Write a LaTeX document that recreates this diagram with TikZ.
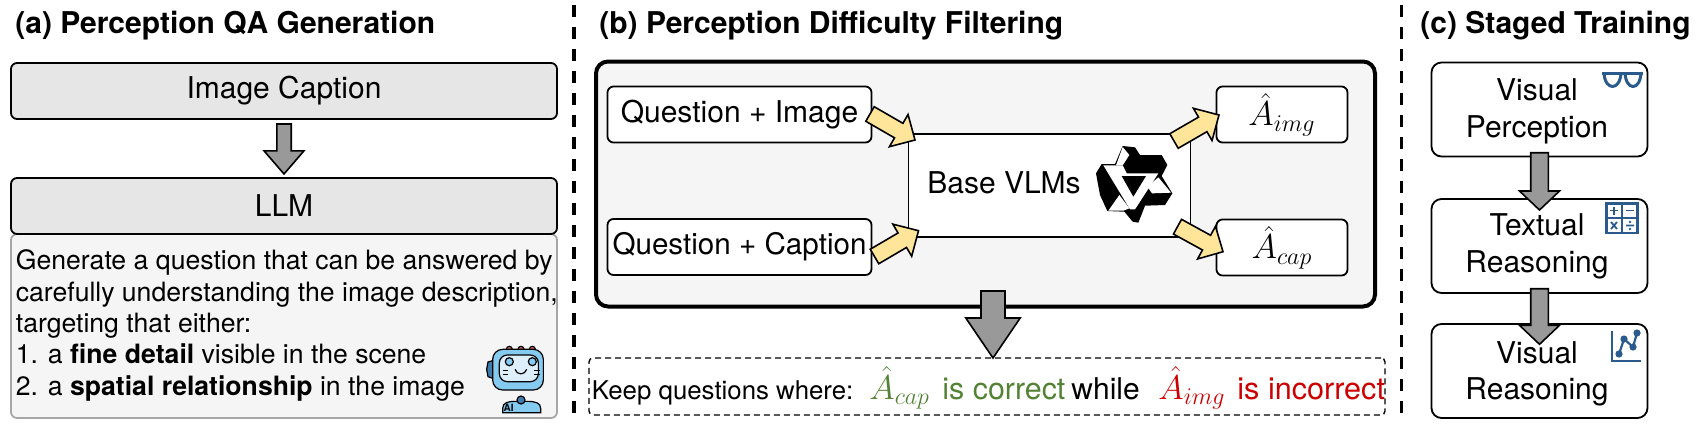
\documentclass[tikz,border=0pt]{standalone}
\usepackage{fontspec}
\setmainfont{TeX Gyre Heros}
\usetikzlibrary{calc}
\definecolor{boxgray}{HTML}{E6E6E6}
\definecolor{panelgray}{HTML}{F5F5F5}
\definecolor{arrowgray}{HTML}{999999}
\definecolor{arrowyellow}{HTML}{FFE599}
\definecolor{okgreen}{HTML}{548235}
\definecolor{badred}{HTML}{CC0000}
\definecolor{iconblue}{HTML}{2A5B8C}
\definecolor{robotblue}{HTML}{85CBF0}
\definecolor{robotdark}{HTML}{3F7CAC}
\definecolor{robotpale}{HTML}{DDEFFA}
\definecolor{robotred}{HTML}{DE6A6A}
\tikzset{blockarrow/.style n args={3}{draw=black,line width=0.8pt,line join=miter,
	to path={($(\tikztotarget)!#3!(\tikztostart)$) coordinate (hb)
		($(\tikztostart)!#1!90:(\tikztotarget)$) -- ($(hb)!#1!90:(\tikztotarget)$)
		-- ($(hb)!#2!90:(\tikztotarget)$) -- (\tikztotarget)
		-- ($(hb)!#2!-90:(\tikztotarget)$) -- ($(hb)!#1!-90:(\tikztotarget)$)
		-- ($(\tikztostart)!#1!-90:(\tikztotarget)$) -- cycle}}}
\begin{document}
\begin{tikzpicture}[x=0.5pt,y=-0.5pt]
	\def \titleht{33}
	\def \keepht{399}
	\def \boxfont{\fontsize{15}{18.5}\selectfont}
	\tikzstyle{title}=[anchor=base west,inner sep=0pt,font=\fontsize{15}{18}\selectfont\bfseries]
	\tikzstyle{gray-box}=[rectangle,rounded corners=3pt,draw=black,line width=0.9pt,fill=boxgray,inner sep=0pt,minimum width=273pt,minimum height=28pt,font=\boxfont]
	\tikzstyle{white-box}=[rectangle,rounded corners=3pt,draw=black,line width=0.9pt,fill=white,inner sep=0pt,font=\boxfont]
	\tikzstyle{stage-box}=[white-box,rounded corners=5pt,minimum width=108pt,minimum height=47pt]
	\tikzstyle{stage-text}=[inner sep=0pt,align=center,font=\boxfont]
	\tikzstyle{input-box}=[white-box,minimum width=132pt,minimum height=28pt]
	\tikzstyle{answer-box}=[white-box,minimum width=65.5pt,minimum height=28pt,font=\fontsize{16.5}{18}\selectfont]
	\tikzstyle{keep-part}=[anchor=base west,inner sep=0pt,font=\fontsize{15.2}{18}\selectfont]
	\tikzstyle{sep-line}=[line width=1.7pt,dash pattern=on 6pt off 5pt]
	\tikzstyle{gray-arrow}=[fill=arrowgray]
	\tikzstyle{yellow-arrow}=[fill=arrowyellow]
	\useasboundingbox (0,0) rectangle (1699,429);

	% titles
	\node[title] (title-a) at (15,\titleht) {(a) Perception QA Generation};
	\node[title] (title-b) at (599,\titleht) {(b) Perception Difficulty Filtering};
	\node[title] (title-c) at (1420,\titleht) {(c) Staged Training};

	% separators
	\coordinate (sep1-top) at (574,5);
	\coordinate (sep1-bot) at (574,420);
	\coordinate (sep2-top) at (1401.5,5);
	\coordinate (sep2-bot) at (1401.5,420);
	\draw[sep-line] (sep1-top) -- (sep1-bot);
	\draw[sep-line] (sep2-top) -- (sep2-bot);

	% panel a
	\node[rectangle,rounded corners=3pt,draw=black!35,line width=0.9pt,fill=panelgray,minimum width=273pt,minimum height=92pt,inner sep=0pt] (prompt) at (284,326) {};
	\node[gray-box] (caption) at (284,91) {Image Caption};
	\node[gray-box] (llm) at (284,206) {LLM};
	\node[anchor=north west,inner sep=0pt,align=left,font=\fontsize{13.3}{15.7}\selectfont] (prompt-text) at (15.5,249.5)
		{Generate a question that can be answered by\\
		carefully understanding the image description,\\
		targeting that either:\\
		1. a \textbf{fine detail} visible in the scene\\
		2. a \textbf{spatial relationship} in the image};

	% robot
	\begin{scope}[shift={(480,340)},x=0.1667pt,y=-0.1667pt,line width=0.6pt]
		\foreach \bx in {88,123,157}
			\draw[fill=robotred] (\bx,28) circle (9);
		\draw[fill=robotdark] (38,62) -- (24,66) -- (20,88) -- (24,110) -- (38,115) -- cycle;
		\draw[fill=robotblue,rounded corners=5pt] (38,28) rectangle (190,150);
		\draw[fill=robotpale,rounded corners=4pt] (58,45) rectangle (175,125);
		\draw[fill=robotblue] (88,65) circle (12);
		\draw[fill=robotblue] (157,65) circle (12);
		\draw (105,88) .. controls (110,106) and (135,106) .. (140,88);
		\draw (68,92) -- (84,92) (68,104) -- (84,104) (163,92) -- (179,92) (163,104) -- (179,104);
		\draw[fill=robotblue] (68,218) -- (68,205) .. controls (68,188) and (85,184) .. (105,184) -- (140,184) .. controls (165,184) and (182,188) .. (182,205) -- (182,218) -- cycle;
		\draw[fill=robotdark] (123,180) circle (12);
		\node[inner sep=0pt,font=\fontsize{5}{5}\selectfont\bfseries] (robot-ai) at (86,204) {AI};
	\end{scope}

	% panel b
	\node[rectangle,rounded corners=6pt,draw=black,line width=2pt,fill=panelgray,minimum width=389.5pt,minimum height=122.5pt,inner sep=0pt] (filter) at (985.5,184) {};
	\node[input-box] (q-image) at (739.5,114.5) {Question + Image};
	\node[input-box,font=\fontsize{14.8}{18}\selectfont] (q-caption) at (739.5,247) {Question + Caption};
	\node[white-box,rectangle,rounded corners=0pt,minimum width=141pt,minimum height=51.5pt] (vlm) at (1049.5,185.5) {};
	\node[anchor=base,inner sep=0pt,font=\boxfont] (vlm-text) at (1004,193) {Base VLMs};
	\node[answer-box] (a-img) at (1282,114.5) {$\hat{A}_{img}$};
	\node[answer-box] (a-cap) at (1282,247.5) {$\hat{A}_{cap}$};

	% logo
	\begin{scope}[shift={(1090,140)},x=0.1667pt,y=-0.1667pt]
		\fill[black] (98,18) -- (135,22) -- (150,45) -- (215,45) -- (232,75) -- (215,108) -- (247,160) -- (225,195) -- (165,197) -- (145,248) -- (128,245) -- (103,215) -- (52,213) -- (30,165) -- (18,100) -- (35,72) -- (75,72) -- cycle;
		\fill[white] (40,76) -- (98,76) -- (110,100) -- (205,100) -- (135,208) -- (120,208) -- cycle;
		\fill[white] (98,21) -- (118,45) -- (98,76) -- (78,76) -- cycle;
		\fill[white] (205,112) -- (243,158) -- (186,160) -- (172,140) -- cycle;
		\fill[white] (88,165) -- (118,205) -- (100,212) -- (55,212) -- cycle;
		\fill[black] (95,108) -- (168,108) -- (130,170) -- cycle;
	\end{scope}

	% keep box
	\node[rectangle,rounded corners=2pt,draw=black,line width=0.7pt,dash pattern=on 3pt off 2pt,minimum width=398pt,minimum height=28.5pt,inner sep=0pt] (keep) at (987,386.5) {};
	\node[keep-part,font=\fontsize{12.9}{15}\selectfont] (keep-text) at (591.5,\keepht) {Keep questions where:};
	\node[keep-part,text=okgreen,font=\fontsize{18}{18}\selectfont] (keep-good-math) at (869,\keepht) {$\hat{A}_{cap}$};
	\node[keep-part,text=okgreen] (keep-good) at (942,\keepht) {is correct};
	\node[keep-part,font=\fontsize{15}{18}\selectfont] (keep-while) at (1071,\keepht) {while};
	\node[keep-part,text=badred,font=\fontsize{18}{18}\selectfont] (keep-bad-math) at (1158,\keepht) {$\hat{A}_{img}$};
	\node[keep-part,text=badred,font=\fontsize{15.3}{18}\selectfont] (keep-bad) at (1237,\keepht) {is incorrect};

	% panel c
	\node[stage-box] (stage1) at (1539.5,109.5) {};
	\node[stage-box] (stage2) at (1539.5,246) {};
	\node[stage-box] (stage3) at (1539.5,371) {};
	\node[stage-text] (stage1-text) at (1537,111.5) {Visual\\Perception};
	\node[stage-text] (stage2-text) at (1537,246) {Textual\\Reasoning};
	\node[stage-text,font=\fontsize{15}{18}\selectfont] (stage3-text) at (1537,373.5) {Visual\\Reasoning};

	% icons
	\begin{scope}[draw=iconblue,line width=1.5pt]
		\draw (1602,73) -- (1643,73);
		\draw (1604,73) .. controls (1605,91) and (1620,91) .. (1621,73);
		\draw (1625,73) .. controls (1626,91) and (1640,91) .. (1641,73);
		\draw[line width=1.1pt] (1606.5,203.5) rectangle (1637.5,233);
		\draw[line width=1.1pt] (1622,203.5) -- (1622,233) (1606.5,218) -- (1637.5,218);
		\draw[line width=0.9pt] (1610,210.5) -- (1618,210.5) (1614,206.5) -- (1614,214.5) (1626,210.5) -- (1634,210.5);
		\draw[line width=0.9pt] (1611,222) -- (1617,229) (1617,222) -- (1611,229) (1626,225.5) -- (1634,225.5);
		\fill[iconblue] (1630,222) circle (0.7pt) (1630,229) circle (0.7pt);
		\draw[line width=1.1pt] (1612,331) -- (1612,361) -- (1641,361);
		\draw[line width=1.1pt] (1619,354) -- (1624,339) -- (1633,347) -- (1637,333);
		\fill[iconblue] (1619,354) circle (1.8pt) (1624,339) circle (1.8pt) (1633,347) circle (1.8pt) (1637,333) circle (1.8pt);
	\end{scope}

	% block arrows
	\coordinate (caption-out) at (284,124);
	\coordinate (llm-in) at (284,174);
	\coordinate (filter-out) at (993,291);
	\coordinate (keep-in) at (993,358);
	\coordinate (stage1-out) at (1539.5,152.7);
	\coordinate (stage2-in) at (1539.5,210);
	\coordinate (stage2-out) at (1539.5,288.7);
	\coordinate (stage3-in) at (1539.5,344.3);
	\coordinate (q-image-out) at (870,114);
	\coordinate (vlm-in1) at (915,140);
	\coordinate (q-caption-out) at (874.5,256.5);
	\coordinate (vlm-in2) at (918.5,230.7);
	\coordinate (vlm-out1) at (1174,141);
	\coordinate (a-img-in) at (1219,115);
	\coordinate (vlm-out2) at (1177.5,226.7);
	\coordinate (a-cap-in) at (1223,251.7);

	\draw[blockarrow={3.6pt}{10pt}{11.6pt},gray-arrow] (caption-out) to (llm-in);
	\draw[blockarrow={6pt}{13.6pt}{20pt},gray-arrow] (filter-out) to (keep-in);
	\draw[blockarrow={4.4pt}{10pt}{9.5pt},gray-arrow] (stage1-out) to (stage2-in);
	\draw[blockarrow={4.4pt}{10pt}{9.5pt},gray-arrow] (stage2-out) to (stage3-in);
	\draw[blockarrow={4.2pt}{9.3pt}{9.4pt},yellow-arrow] (q-image-out) to (vlm-in1);
	\draw[blockarrow={4.2pt}{9.3pt}{9.4pt},yellow-arrow] (q-caption-out) to (vlm-in2);
	\draw[blockarrow={4.2pt}{9.3pt}{9.4pt},yellow-arrow] (vlm-out1) to (a-img-in);
	\draw[blockarrow={4.2pt}{9.3pt}{9.4pt},yellow-arrow] (vlm-out2) to (a-cap-in);
\end{tikzpicture}
\end{document}
